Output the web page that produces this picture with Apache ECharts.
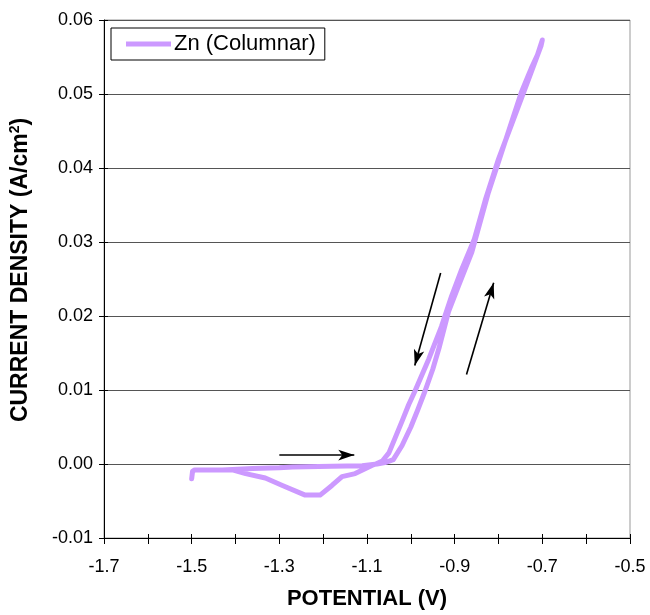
<!DOCTYPE html>
<html>
<head>
<meta charset="utf-8">
<script src="https://cdn.jsdelivr.net/npm/echarts@6/dist/echarts.min.js"></script>
<style>html,body{margin:0;padding:0;background:#fff;}#c{width:650px;height:615px;}</style>
</head>
<body>
<div id="c"></div>
<script>
// Potential (V) along the scan, in order
const potential = [
  -1.500, -1.498, -1.493, -1.430, -1.361, -1.300, -1.270, -1.180, -1.111, -1.077,
  -1.059, -1.040, -1.020, -1.000, -0.985, -0.968, -0.950, -0.936, -0.914, -0.891,
  -0.861, -0.823, -0.793, -0.748, -0.732, -0.725, -0.711, -0.700,
  -0.703, -0.730, -0.760, -0.800, -0.830, -0.855, -0.884, -0.907, -0.930, -0.959,
  -0.975, -0.991, -1.005, -1.020, -1.036, -1.050, -1.065, -1.080,
  -1.089, -1.127, -1.157, -1.180, -1.207, -1.241, -1.293, -1.332, -1.377, -1.407, -1.440
];
// Current density (A/cm2) along the scan, in order
const current = [
  -0.0020, -0.0010, -0.0008, -0.0008, -0.0006, -0.0005, -0.0004, -0.0003, -0.00025, 0.0000,
  0.0002, 0.0006, 0.0025, 0.0050, 0.0072, 0.0098, 0.0128, 0.0156, 0.0206, 0.0241,
  0.0286, 0.0367, 0.0421, 0.0502, 0.0525, 0.0535, 0.0553, 0.0573,
  0.0565, 0.0522, 0.0475, 0.0412, 0.0357, 0.0304, 0.0263, 0.0227, 0.0186, 0.0142,
  0.0120, 0.0098, 0.0080, 0.0058, 0.0035, 0.0015, 0.0004, 0.0000,
  -0.0002, -0.0013, -0.0017, -0.0029, -0.0042, -0.0042, -0.0029, -0.0019, -0.0013, -0.0008, -0.0008
];
// Annotation arrows: [startV, startI, endV, endI]
const arrowRight = [-1.300, 0.0012, -1.129, 0.0012];
const arrowDown  = [-0.932, 0.0258, -0.991, 0.0133];
const arrowUp    = [-0.873, 0.0121, -0.811, 0.0245];

const xTicks = [-1.7, -1.5, -1.3, -1.1, -0.9, -0.7, -0.5];
const seriesName = 'Zn (Columnar)';

const data = potential.map((v, i) => [v, current[i]]);
const arrows = [arrowRight, arrowDown, arrowUp].map(a => [{coord: [a[0], a[1]]}, {coord: [a[2], a[3]]}]);

const FONT = 'Liberation Sans, Arial, sans-serif';
const chart = echarts.init(document.getElementById('c'), null, {renderer: 'canvas'});
const isMajor = v => xTicks.some(t => Math.abs(t - v) < 1e-6);

chart.setOption({
  backgroundColor: '#fff',
  animation: false,
  textStyle: {fontFamily: FONT},
  grid: {left: 101, right: 20, top: 20, bottom: 75, show: true, borderColor: '#999', borderWidth: 1},
  legend: {
    left: 111, top: 28,
    data: [seriesName],
    orient: 'horizontal',
    borderColor: '#000', borderWidth: 1,
    padding: [5, 9, 5, 15],
    itemWidth: 45, itemHeight: 5,
    itemGap: 4,
    textStyle: {fontFamily: FONT, fontSize: 22, color: '#000', padding: [0, 0, 0, -2]},
    icon: 'rect'
  },
  xAxis: [{
    type: 'value', min: -1.7, max: -0.5, interval: 0.1,
    position: 'bottom',
    axisLine: {show: true, onZero: false, lineStyle: {color: '#000', width: 1}},
    axisTick: {show: true, length: 6, lineStyle: {color: '#000'}, interval: (i, v) => isMajor(v)},
    axisLabel: {
      fontSize: 18, color: '#000', margin: 20, fontFamily: FONT,
      formatter: v => isMajor(v) ? v.toFixed(1) : ''
    },
    splitLine: {show: false},
    name: 'POTENTIAL (V)', nameLocation: 'middle', nameGap: 50,
    nameTextStyle: {fontSize: 22, fontWeight: 'bold', color: '#000', fontFamily: FONT}
  }, {
    type: 'value', min: -1.7, max: -0.5, interval: 0.1,
    position: 'bottom',
    axisLine: {show: false, onZero: false},
    axisTick: {show: true, inside: true, length: 4, lineStyle: {color: '#000'}, interval: (i, v) => !isMajor(v)},
    axisLabel: {show: false},
    splitLine: {show: false}
  }],
  yAxis: [{
    type: 'value', min: -0.01, max: 0.06, interval: 0.01,
    axisLine: {show: true, onZero: false, lineStyle: {color: '#000', width: 1}},
    axisTick: {show: true, length: 5, lineStyle: {color: '#000'}},
    axisLabel: {fontSize: 18, color: '#000', margin: 11, fontFamily: FONT, formatter: v => v.toFixed(2)},
    splitLine: {show: true, lineStyle: {color: '#555', width: 1}},
    name: '{a|CURRENT DENSITY (A/cm}{s|2}{a|)}',
    nameLocation: 'middle', nameGap: 71,
    nameTextStyle: {
      fontFamily: FONT, color: '#000',
      padding: [0, 0, 0, 18],
      rich: {
        a: {fontSize: 23, fontWeight: 'bold', fontFamily: FONT, color: '#000'},
        s: {fontSize: 14, fontWeight: 'bold', fontFamily: FONT, color: '#000', padding: [0, 0, 11, 0]}
      }
    }
  }, {
    type: 'value', min: -0.01, max: 0.06, interval: 0.01,
    position: 'left',
    axisLine: {show: false, onZero: false},
    axisTick: {show: true, inside: true, length: 4, lineStyle: {color: '#000'}},
    axisLabel: {show: false},
    splitLine: {show: false}
  }],
  series: [{
    name: seriesName,
    type: 'line',
    xAxisIndex: 0, yAxisIndex: 0,
    data: data,
    showSymbol: false,
    symbol: 'none',
    smooth: false,
    lineStyle: {color: '#CC99FF', width: 5, cap: 'round', join: 'round'},
    itemStyle: {color: '#CC99FF'},
    markLine: {
      silent: true,
      symbol: ['none', 'arrow'],
      symbolSize: [8, 16],
      label: {show: false},
      lineStyle: {color: '#000', width: 1.6, type: 'solid'},
      data: arrows
    }
  }]
});
</script>
</body>
</html>
